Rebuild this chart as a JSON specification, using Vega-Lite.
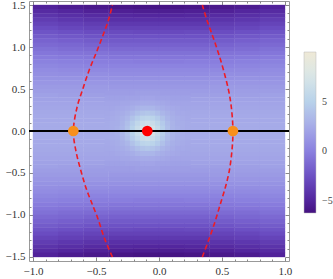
{
"$schema":"https://vega.github.io/schema/vega-lite/v6.json",
"width":260,"height":260,
"autosize":{"type":"none"},
"padding":{"left":29,"top":1,"right":44,"bottom":18},
"background":"white",
"config":{"view":{"stroke":"#999","strokeWidth":1},"axis":{"domain":false,"grid":false,"title":null,"tickColor":"#888","labelFont":"Liberation Serif","labelFontSize":11,"labelColor":"#333","labelFlush":false,"labelOverlap":false}},
"datasets":{
"grid":[
{"x":-0.9,"y":1.475,"v":-5.1},{"x":-0.7,"y":1.475,"v":-5.5},{"x":-0.5,"y":1.475,"v":-5.7},{"x":-0.3,"y":1.475,"v":-5.9},{"x":-0.1,"y":1.475,"v":-6.0},{"x":0.1,"y":1.475,"v":-6.0},{"x":0.3,"y":1.475,"v":-5.9},{"x":0.5,"y":1.475,"v":-5.7},{"x":0.7,"y":1.475,"v":-5.5},{"x":0.9,"y":1.475,"v":-5.1},
{"x":-0.9,"y":1.425,"v":-4.6},{"x":-0.7,"y":1.425,"v":-4.9},{"x":-0.5,"y":1.425,"v":-5.2},{"x":-0.3,"y":1.425,"v":-5.3},{"x":-0.1,"y":1.425,"v":-5.4},{"x":0.1,"y":1.425,"v":-5.4},{"x":0.3,"y":1.425,"v":-5.3},{"x":0.5,"y":1.425,"v":-5.2},{"x":0.7,"y":1.425,"v":-4.9},{"x":0.9,"y":1.425,"v":-4.6},
{"x":-0.9,"y":1.375,"v":-4.1},{"x":-0.7,"y":1.375,"v":-4.4},{"x":-0.5,"y":1.375,"v":-4.6},{"x":-0.3,"y":1.375,"v":-4.8},{"x":-0.1,"y":1.375,"v":-4.9},{"x":0.1,"y":1.375,"v":-4.9},{"x":0.3,"y":1.375,"v":-4.8},{"x":0.5,"y":1.375,"v":-4.6},{"x":0.7,"y":1.375,"v":-4.4},{"x":0.9,"y":1.375,"v":-4.1},
{"x":-0.9,"y":1.325,"v":-3.6},{"x":-0.7,"y":1.325,"v":-3.9},{"x":-0.5,"y":1.325,"v":-4.1},{"x":-0.3,"y":1.325,"v":-4.3},{"x":-0.1,"y":1.325,"v":-4.3},{"x":0.1,"y":1.325,"v":-4.3},{"x":0.3,"y":1.325,"v":-4.3},{"x":0.5,"y":1.325,"v":-4.1},{"x":0.7,"y":1.325,"v":-3.9},{"x":0.9,"y":1.325,"v":-3.6},
{"x":-0.9,"y":1.275,"v":-3.2},{"x":-0.7,"y":1.275,"v":-3.4},{"x":-0.5,"y":1.275,"v":-3.6},{"x":-0.3,"y":1.275,"v":-3.8},{"x":-0.1,"y":1.275,"v":-3.8},{"x":0.1,"y":1.275,"v":-3.8},{"x":0.3,"y":1.275,"v":-3.8},{"x":0.5,"y":1.275,"v":-3.6},{"x":0.7,"y":1.275,"v":-3.4},{"x":0.9,"y":1.275,"v":-3.2},
{"x":-0.9,"y":1.225,"v":-2.7},{"x":-0.7,"y":1.225,"v":-3.0},{"x":-0.5,"y":1.225,"v":-3.2},{"x":-0.3,"y":1.225,"v":-3.3},{"x":-0.1,"y":1.225,"v":-3.3},{"x":0.1,"y":1.225,"v":-3.3},{"x":0.3,"y":1.225,"v":-3.3},{"x":0.5,"y":1.225,"v":-3.2},{"x":0.7,"y":1.225,"v":-3.0},{"x":0.9,"y":1.225,"v":-2.7},
{"x":-0.9,"y":1.175,"v":-2.3},{"x":-0.7,"y":1.175,"v":-2.5},{"x":-0.5,"y":1.175,"v":-2.7},{"x":-0.3,"y":1.175,"v":-2.8},{"x":-0.1,"y":1.175,"v":-2.9},{"x":0.1,"y":1.175,"v":-2.9},{"x":0.3,"y":1.175,"v":-2.8},{"x":0.5,"y":1.175,"v":-2.7},{"x":0.7,"y":1.175,"v":-2.5},{"x":0.9,"y":1.175,"v":-2.3},
{"x":-0.9,"y":1.125,"v":-1.9},{"x":-0.7,"y":1.125,"v":-2.1},{"x":-0.5,"y":1.125,"v":-2.3},{"x":-0.3,"y":1.125,"v":-2.4},{"x":-0.1,"y":1.125,"v":-2.4},{"x":0.1,"y":1.125,"v":-2.4},{"x":0.3,"y":1.125,"v":-2.4},{"x":0.5,"y":1.125,"v":-2.3},{"x":0.7,"y":1.125,"v":-2.1},{"x":0.9,"y":1.125,"v":-1.9},
{"x":-0.9,"y":1.075,"v":-1.5},{"x":-0.7,"y":1.075,"v":-1.7},{"x":-0.5,"y":1.075,"v":-1.9},{"x":-0.3,"y":1.075,"v":-2.0},{"x":-0.1,"y":1.075,"v":-2.0},{"x":0.1,"y":1.075,"v":-2.0},{"x":0.3,"y":1.075,"v":-2.0},{"x":0.5,"y":1.075,"v":-1.9},{"x":0.7,"y":1.075,"v":-1.7},{"x":0.9,"y":1.075,"v":-1.5},
{"x":-0.9,"y":1.025,"v":-1.2},{"x":-0.7,"y":1.025,"v":-1.3},{"x":-0.5,"y":1.025,"v":-1.5},{"x":-0.3,"y":1.025,"v":-1.6},{"x":-0.1,"y":1.025,"v":-1.6},{"x":0.1,"y":1.025,"v":-1.6},{"x":0.3,"y":1.025,"v":-1.6},{"x":0.5,"y":1.025,"v":-1.5},{"x":0.7,"y":1.025,"v":-1.3},{"x":0.9,"y":1.025,"v":-1.2},
{"x":-0.9,"y":0.975,"v":-0.8},{"x":-0.7,"y":0.975,"v":-1.0},{"x":-0.5,"y":0.975,"v":-1.1},{"x":-0.3,"y":0.975,"v":-1.2},{"x":-0.1,"y":0.975,"v":-1.2},{"x":0.1,"y":0.975,"v":-1.2},{"x":0.3,"y":0.975,"v":-1.2},{"x":0.5,"y":0.975,"v":-1.1},{"x":0.7,"y":0.975,"v":-1.0},{"x":0.9,"y":0.975,"v":-0.8},
{"x":-0.9,"y":0.925,"v":-0.5},{"x":-0.7,"y":0.925,"v":-0.6},{"x":-0.5,"y":0.925,"v":-0.7},{"x":-0.3,"y":0.925,"v":-0.8},{"x":-0.1,"y":0.925,"v":-0.8},{"x":0.1,"y":0.925,"v":-0.8},{"x":0.3,"y":0.925,"v":-0.8},{"x":0.5,"y":0.925,"v":-0.7},{"x":0.7,"y":0.925,"v":-0.6},{"x":0.9,"y":0.925,"v":-0.5},
{"x":-0.9,"y":0.875,"v":-0.2},{"x":-0.7,"y":0.875,"v":-0.3},{"x":-0.5,"y":0.875,"v":-0.4},{"x":-0.3,"y":0.875,"v":-0.5},{"x":-0.1,"y":0.875,"v":-0.5},{"x":0.1,"y":0.875,"v":-0.5},{"x":0.3,"y":0.875,"v":-0.5},{"x":0.5,"y":0.875,"v":-0.4},{"x":0.7,"y":0.875,"v":-0.3},{"x":0.9,"y":0.875,"v":-0.2},
{"x":-0.9,"y":0.825,"v":0.1},{"x":-0.7,"y":0.825,"v":0.0},{"x":-0.5,"y":0.825,"v":-0.1},{"x":-0.3,"y":0.825,"v":-0.1},{"x":-0.1,"y":0.825,"v":-0.2},{"x":0.1,"y":0.825,"v":-0.2},{"x":0.3,"y":0.825,"v":-0.1},{"x":0.5,"y":0.825,"v":-0.1},{"x":0.7,"y":0.825,"v":0.0},{"x":0.9,"y":0.825,"v":0.1},
{"x":-0.9,"y":0.775,"v":0.4},{"x":-0.7,"y":0.775,"v":0.3},{"x":-0.5,"y":0.775,"v":0.2},{"x":-0.3,"y":0.775,"v":0.2},{"x":-0.1,"y":0.775,"v":0.2},{"x":0.1,"y":0.775,"v":0.2},{"x":0.3,"y":0.775,"v":0.2},{"x":0.5,"y":0.775,"v":0.2},{"x":0.7,"y":0.775,"v":0.3},{"x":0.9,"y":0.775,"v":0.4},
{"x":-0.9,"y":0.725,"v":0.7},{"x":-0.7,"y":0.725,"v":0.6},{"x":-0.5,"y":0.725,"v":0.5},{"x":-0.3,"y":0.725,"v":0.5},{"x":-0.1,"y":0.725,"v":0.5},{"x":0.1,"y":0.725,"v":0.5},{"x":0.3,"y":0.725,"v":0.5},{"x":0.5,"y":0.725,"v":0.5},{"x":0.7,"y":0.725,"v":0.6},{"x":0.9,"y":0.725,"v":0.7},
{"x":-0.9,"y":0.675,"v":0.9},{"x":-0.7,"y":0.675,"v":0.8},{"x":-0.5,"y":0.675,"v":0.8},{"x":-0.3,"y":0.675,"v":0.7},{"x":-0.1,"y":0.675,"v":0.7},{"x":0.1,"y":0.675,"v":0.7},{"x":0.3,"y":0.675,"v":0.7},{"x":0.5,"y":0.675,"v":0.8},{"x":0.7,"y":0.675,"v":0.8},{"x":0.9,"y":0.675,"v":0.9},
{"x":-0.9,"y":0.625,"v":1.1},{"x":-0.7,"y":0.625,"v":1.1},{"x":-0.5,"y":0.625,"v":1.0},{"x":-0.3,"y":0.625,"v":1.0},{"x":-0.1,"y":0.625,"v":1.0},{"x":0.1,"y":0.625,"v":1.0},{"x":0.3,"y":0.625,"v":1.0},{"x":0.5,"y":0.625,"v":1.0},{"x":0.7,"y":0.625,"v":1.1},{"x":0.9,"y":0.625,"v":1.1},
{"x":-0.9,"y":0.575,"v":1.3},{"x":-0.7,"y":0.575,"v":1.3},{"x":-0.5,"y":0.575,"v":1.3},{"x":-0.3,"y":0.575,"v":1.2},{"x":-0.1,"y":0.575,"v":1.2},{"x":0.1,"y":0.575,"v":1.2},{"x":0.3,"y":0.575,"v":1.2},{"x":0.5,"y":0.575,"v":1.3},{"x":0.7,"y":0.575,"v":1.3},{"x":0.9,"y":0.575,"v":1.3},
{"x":-0.9,"y":0.525,"v":1.5},{"x":-0.7,"y":0.525,"v":1.5},{"x":-0.5,"y":0.525,"v":1.5},{"x":-0.3,"y":0.525,"v":1.4},{"x":-0.1,"y":0.525,"v":1.4},{"x":0.1,"y":0.525,"v":1.4},{"x":0.3,"y":0.525,"v":1.4},{"x":0.5,"y":0.525,"v":1.5},{"x":0.7,"y":0.525,"v":1.5},{"x":0.9,"y":0.525,"v":1.5},
{"x":-0.9,"y":0.475,"v":1.7},{"x":-0.7,"y":0.475,"v":1.7},{"x":-0.5,"y":0.475,"v":1.6},{"x":-0.3,"y":0.475,"v":1.6},{"x":-0.1,"y":0.475,"v":1.6},{"x":0.1,"y":0.475,"v":1.6},{"x":0.3,"y":0.475,"v":1.6},{"x":0.5,"y":0.475,"v":1.6},{"x":0.7,"y":0.475,"v":1.7},{"x":0.9,"y":0.475,"v":1.7},
{"x":-0.9,"y":0.425,"v":1.9},{"x":-0.7,"y":0.425,"v":1.8},{"x":-0.5,"y":0.425,"v":1.8},{"x":-0.3,"y":0.425,"v":1.8},{"x":-0.1,"y":0.425,"v":1.8},{"x":0.1,"y":0.425,"v":1.8},{"x":0.3,"y":0.425,"v":1.8},{"x":0.5,"y":0.425,"v":1.8},{"x":0.7,"y":0.425,"v":1.8},{"x":0.9,"y":0.425,"v":1.9},
{"x":-0.9,"y":0.375,"v":2.0},{"x":-0.7,"y":0.375,"v":2.0},{"x":-0.5,"y":0.375,"v":2.0},{"x":-0.3,"y":0.375,"v":2.0},{"x":-0.1,"y":0.375,"v":2.0},{"x":0.1,"y":0.375,"v":2.0},{"x":0.3,"y":0.375,"v":2.0},{"x":0.5,"y":0.375,"v":2.0},{"x":0.7,"y":0.375,"v":2.0},{"x":0.9,"y":0.375,"v":2.0},
{"x":-0.9,"y":0.325,"v":2.1},{"x":-0.7,"y":0.325,"v":2.1},{"x":-0.5,"y":0.325,"v":2.1},{"x":-0.3,"y":0.325,"v":2.1},{"x":-0.1,"y":0.325,"v":2.1},{"x":0.1,"y":0.325,"v":2.1},{"x":0.3,"y":0.325,"v":2.1},{"x":0.5,"y":0.325,"v":2.1},{"x":0.7,"y":0.325,"v":2.1},{"x":0.9,"y":0.325,"v":2.1},
{"x":-0.9,"y":0.275,"v":2.2},{"x":-0.7,"y":0.275,"v":2.2},{"x":-0.5,"y":0.275,"v":2.2},{"x":-0.3,"y":0.275,"v":2.2},{"x":-0.1,"y":0.275,"v":2.2},{"x":0.1,"y":0.275,"v":2.2},{"x":0.3,"y":0.275,"v":2.2},{"x":0.5,"y":0.275,"v":2.2},{"x":0.7,"y":0.275,"v":2.2},{"x":0.9,"y":0.275,"v":2.2},
{"x":-0.9,"y":0.225,"v":2.3},{"x":-0.7,"y":0.225,"v":2.3},{"x":-0.5,"y":0.225,"v":2.3},{"x":-0.3,"y":0.225,"v":2.3},{"x":-0.1,"y":0.225,"v":2.3},{"x":0.1,"y":0.225,"v":2.3},{"x":0.3,"y":0.225,"v":2.3},{"x":0.5,"y":0.225,"v":2.3},{"x":0.7,"y":0.225,"v":2.3},{"x":0.9,"y":0.225,"v":2.3},
{"x":-0.9,"y":0.175,"v":2.4},{"x":-0.7,"y":0.175,"v":2.4},{"x":-0.5,"y":0.175,"v":2.4},{"x":-0.3,"y":0.175,"v":2.4},{"x":-0.1,"y":0.175,"v":2.4},{"x":0.1,"y":0.175,"v":2.4},{"x":0.3,"y":0.175,"v":2.4},{"x":0.5,"y":0.175,"v":2.4},{"x":0.7,"y":0.175,"v":2.4},{"x":0.9,"y":0.175,"v":2.4},
{"x":-0.9,"y":0.125,"v":2.4},{"x":-0.7,"y":0.125,"v":2.4},{"x":-0.5,"y":0.125,"v":2.4},{"x":-0.3,"y":0.125,"v":2.4},{"x":-0.1,"y":0.125,"v":2.4},{"x":0.1,"y":0.125,"v":2.4},{"x":0.3,"y":0.125,"v":2.4},{"x":0.5,"y":0.125,"v":2.4},{"x":0.7,"y":0.125,"v":2.4},{"x":0.9,"y":0.125,"v":2.4},
{"x":-0.9,"y":0.075,"v":2.5},{"x":-0.7,"y":0.075,"v":2.5},{"x":-0.5,"y":0.075,"v":2.5},{"x":-0.3,"y":0.075,"v":2.5},{"x":-0.1,"y":0.075,"v":2.5},{"x":0.1,"y":0.075,"v":2.5},{"x":0.3,"y":0.075,"v":2.5},{"x":0.5,"y":0.075,"v":2.5},{"x":0.7,"y":0.075,"v":2.5},{"x":0.9,"y":0.075,"v":2.5},
{"x":-0.9,"y":0.025,"v":2.5},{"x":-0.7,"y":0.025,"v":2.5},{"x":-0.5,"y":0.025,"v":2.5},{"x":-0.3,"y":0.025,"v":2.5},{"x":-0.1,"y":0.025,"v":2.5},{"x":0.1,"y":0.025,"v":2.5},{"x":0.3,"y":0.025,"v":2.5},{"x":0.5,"y":0.025,"v":2.5},{"x":0.7,"y":0.025,"v":2.5},{"x":0.9,"y":0.025,"v":2.5},
{"x":-0.9,"y":-0.025,"v":2.5},{"x":-0.7,"y":-0.025,"v":2.5},{"x":-0.5,"y":-0.025,"v":2.5},{"x":-0.3,"y":-0.025,"v":2.5},{"x":-0.1,"y":-0.025,"v":2.5},{"x":0.1,"y":-0.025,"v":2.5},{"x":0.3,"y":-0.025,"v":2.5},{"x":0.5,"y":-0.025,"v":2.5},{"x":0.7,"y":-0.025,"v":2.5},{"x":0.9,"y":-0.025,"v":2.5},
{"x":-0.9,"y":-0.075,"v":2.5},{"x":-0.7,"y":-0.075,"v":2.5},{"x":-0.5,"y":-0.075,"v":2.5},{"x":-0.3,"y":-0.075,"v":2.5},{"x":-0.1,"y":-0.075,"v":2.5},{"x":0.1,"y":-0.075,"v":2.5},{"x":0.3,"y":-0.075,"v":2.5},{"x":0.5,"y":-0.075,"v":2.5},{"x":0.7,"y":-0.075,"v":2.5},{"x":0.9,"y":-0.075,"v":2.5},
{"x":-0.9,"y":-0.125,"v":2.4},{"x":-0.7,"y":-0.125,"v":2.4},{"x":-0.5,"y":-0.125,"v":2.4},{"x":-0.3,"y":-0.125,"v":2.4},{"x":-0.1,"y":-0.125,"v":2.4},{"x":0.1,"y":-0.125,"v":2.4},{"x":0.3,"y":-0.125,"v":2.4},{"x":0.5,"y":-0.125,"v":2.4},{"x":0.7,"y":-0.125,"v":2.4},{"x":0.9,"y":-0.125,"v":2.4},
{"x":-0.9,"y":-0.175,"v":2.4},{"x":-0.7,"y":-0.175,"v":2.4},{"x":-0.5,"y":-0.175,"v":2.4},{"x":-0.3,"y":-0.175,"v":2.4},{"x":-0.1,"y":-0.175,"v":2.4},{"x":0.1,"y":-0.175,"v":2.4},{"x":0.3,"y":-0.175,"v":2.4},{"x":0.5,"y":-0.175,"v":2.4},{"x":0.7,"y":-0.175,"v":2.4},{"x":0.9,"y":-0.175,"v":2.4},
{"x":-0.9,"y":-0.225,"v":2.3},{"x":-0.7,"y":-0.225,"v":2.3},{"x":-0.5,"y":-0.225,"v":2.3},{"x":-0.3,"y":-0.225,"v":2.3},{"x":-0.1,"y":-0.225,"v":2.3},{"x":0.1,"y":-0.225,"v":2.3},{"x":0.3,"y":-0.225,"v":2.3},{"x":0.5,"y":-0.225,"v":2.3},{"x":0.7,"y":-0.225,"v":2.3},{"x":0.9,"y":-0.225,"v":2.3},
{"x":-0.9,"y":-0.275,"v":2.2},{"x":-0.7,"y":-0.275,"v":2.2},{"x":-0.5,"y":-0.275,"v":2.2},{"x":-0.3,"y":-0.275,"v":2.2},{"x":-0.1,"y":-0.275,"v":2.2},{"x":0.1,"y":-0.275,"v":2.2},{"x":0.3,"y":-0.275,"v":2.2},{"x":0.5,"y":-0.275,"v":2.2},{"x":0.7,"y":-0.275,"v":2.2},{"x":0.9,"y":-0.275,"v":2.2},
{"x":-0.9,"y":-0.325,"v":2.1},{"x":-0.7,"y":-0.325,"v":2.1},{"x":-0.5,"y":-0.325,"v":2.1},{"x":-0.3,"y":-0.325,"v":2.1},{"x":-0.1,"y":-0.325,"v":2.1},{"x":0.1,"y":-0.325,"v":2.1},{"x":0.3,"y":-0.325,"v":2.1},{"x":0.5,"y":-0.325,"v":2.1},{"x":0.7,"y":-0.325,"v":2.1},{"x":0.9,"y":-0.325,"v":2.1},
{"x":-0.9,"y":-0.375,"v":2.0},{"x":-0.7,"y":-0.375,"v":2.0},{"x":-0.5,"y":-0.375,"v":2.0},{"x":-0.3,"y":-0.375,"v":2.0},{"x":-0.1,"y":-0.375,"v":2.0},{"x":0.1,"y":-0.375,"v":2.0},{"x":0.3,"y":-0.375,"v":2.0},{"x":0.5,"y":-0.375,"v":2.0},{"x":0.7,"y":-0.375,"v":2.0},{"x":0.9,"y":-0.375,"v":2.0},
{"x":-0.9,"y":-0.425,"v":1.9},{"x":-0.7,"y":-0.425,"v":1.8},{"x":-0.5,"y":-0.425,"v":1.8},{"x":-0.3,"y":-0.425,"v":1.8},{"x":-0.1,"y":-0.425,"v":1.8},{"x":0.1,"y":-0.425,"v":1.8},{"x":0.3,"y":-0.425,"v":1.8},{"x":0.5,"y":-0.425,"v":1.8},{"x":0.7,"y":-0.425,"v":1.8},{"x":0.9,"y":-0.425,"v":1.9},
{"x":-0.9,"y":-0.475,"v":1.7},{"x":-0.7,"y":-0.475,"v":1.7},{"x":-0.5,"y":-0.475,"v":1.6},{"x":-0.3,"y":-0.475,"v":1.6},{"x":-0.1,"y":-0.475,"v":1.6},{"x":0.1,"y":-0.475,"v":1.6},{"x":0.3,"y":-0.475,"v":1.6},{"x":0.5,"y":-0.475,"v":1.6},{"x":0.7,"y":-0.475,"v":1.7},{"x":0.9,"y":-0.475,"v":1.7},
{"x":-0.9,"y":-0.525,"v":1.5},{"x":-0.7,"y":-0.525,"v":1.5},{"x":-0.5,"y":-0.525,"v":1.5},{"x":-0.3,"y":-0.525,"v":1.4},{"x":-0.1,"y":-0.525,"v":1.4},{"x":0.1,"y":-0.525,"v":1.4},{"x":0.3,"y":-0.525,"v":1.4},{"x":0.5,"y":-0.525,"v":1.5},{"x":0.7,"y":-0.525,"v":1.5},{"x":0.9,"y":-0.525,"v":1.5},
{"x":-0.9,"y":-0.575,"v":1.3},{"x":-0.7,"y":-0.575,"v":1.3},{"x":-0.5,"y":-0.575,"v":1.3},{"x":-0.3,"y":-0.575,"v":1.2},{"x":-0.1,"y":-0.575,"v":1.2},{"x":0.1,"y":-0.575,"v":1.2},{"x":0.3,"y":-0.575,"v":1.2},{"x":0.5,"y":-0.575,"v":1.3},{"x":0.7,"y":-0.575,"v":1.3},{"x":0.9,"y":-0.575,"v":1.3},
{"x":-0.9,"y":-0.625,"v":1.1},{"x":-0.7,"y":-0.625,"v":1.1},{"x":-0.5,"y":-0.625,"v":1.0},{"x":-0.3,"y":-0.625,"v":1.0},{"x":-0.1,"y":-0.625,"v":1.0},{"x":0.1,"y":-0.625,"v":1.0},{"x":0.3,"y":-0.625,"v":1.0},{"x":0.5,"y":-0.625,"v":1.0},{"x":0.7,"y":-0.625,"v":1.1},{"x":0.9,"y":-0.625,"v":1.1},
{"x":-0.9,"y":-0.675,"v":0.9},{"x":-0.7,"y":-0.675,"v":0.8},{"x":-0.5,"y":-0.675,"v":0.8},{"x":-0.3,"y":-0.675,"v":0.7},{"x":-0.1,"y":-0.675,"v":0.7},{"x":0.1,"y":-0.675,"v":0.7},{"x":0.3,"y":-0.675,"v":0.7},{"x":0.5,"y":-0.675,"v":0.8},{"x":0.7,"y":-0.675,"v":0.8},{"x":0.9,"y":-0.675,"v":0.9},
{"x":-0.9,"y":-0.725,"v":0.7},{"x":-0.7,"y":-0.725,"v":0.6},{"x":-0.5,"y":-0.725,"v":0.5},{"x":-0.3,"y":-0.725,"v":0.5},{"x":-0.1,"y":-0.725,"v":0.5},{"x":0.1,"y":-0.725,"v":0.5},{"x":0.3,"y":-0.725,"v":0.5},{"x":0.5,"y":-0.725,"v":0.5},{"x":0.7,"y":-0.725,"v":0.6},{"x":0.9,"y":-0.725,"v":0.7},
{"x":-0.9,"y":-0.775,"v":0.4},{"x":-0.7,"y":-0.775,"v":0.3},{"x":-0.5,"y":-0.775,"v":0.2},{"x":-0.3,"y":-0.775,"v":0.2},{"x":-0.1,"y":-0.775,"v":0.2},{"x":0.1,"y":-0.775,"v":0.2},{"x":0.3,"y":-0.775,"v":0.2},{"x":0.5,"y":-0.775,"v":0.2},{"x":0.7,"y":-0.775,"v":0.3},{"x":0.9,"y":-0.775,"v":0.4},
{"x":-0.9,"y":-0.825,"v":0.1},{"x":-0.7,"y":-0.825,"v":0.0},{"x":-0.5,"y":-0.825,"v":-0.1},{"x":-0.3,"y":-0.825,"v":-0.1},{"x":-0.1,"y":-0.825,"v":-0.2},{"x":0.1,"y":-0.825,"v":-0.2},{"x":0.3,"y":-0.825,"v":-0.1},{"x":0.5,"y":-0.825,"v":-0.1},{"x":0.7,"y":-0.825,"v":0.0},{"x":0.9,"y":-0.825,"v":0.1},
{"x":-0.9,"y":-0.875,"v":-0.2},{"x":-0.7,"y":-0.875,"v":-0.3},{"x":-0.5,"y":-0.875,"v":-0.4},{"x":-0.3,"y":-0.875,"v":-0.5},{"x":-0.1,"y":-0.875,"v":-0.5},{"x":0.1,"y":-0.875,"v":-0.5},{"x":0.3,"y":-0.875,"v":-0.5},{"x":0.5,"y":-0.875,"v":-0.4},{"x":0.7,"y":-0.875,"v":-0.3},{"x":0.9,"y":-0.875,"v":-0.2},
{"x":-0.9,"y":-0.925,"v":-0.5},{"x":-0.7,"y":-0.925,"v":-0.6},{"x":-0.5,"y":-0.925,"v":-0.7},{"x":-0.3,"y":-0.925,"v":-0.8},{"x":-0.1,"y":-0.925,"v":-0.8},{"x":0.1,"y":-0.925,"v":-0.8},{"x":0.3,"y":-0.925,"v":-0.8},{"x":0.5,"y":-0.925,"v":-0.7},{"x":0.7,"y":-0.925,"v":-0.6},{"x":0.9,"y":-0.925,"v":-0.5},
{"x":-0.9,"y":-0.975,"v":-0.8},{"x":-0.7,"y":-0.975,"v":-1.0},{"x":-0.5,"y":-0.975,"v":-1.1},{"x":-0.3,"y":-0.975,"v":-1.2},{"x":-0.1,"y":-0.975,"v":-1.2},{"x":0.1,"y":-0.975,"v":-1.2},{"x":0.3,"y":-0.975,"v":-1.2},{"x":0.5,"y":-0.975,"v":-1.1},{"x":0.7,"y":-0.975,"v":-1.0},{"x":0.9,"y":-0.975,"v":-0.8},
{"x":-0.9,"y":-1.025,"v":-1.2},{"x":-0.7,"y":-1.025,"v":-1.3},{"x":-0.5,"y":-1.025,"v":-1.5},{"x":-0.3,"y":-1.025,"v":-1.6},{"x":-0.1,"y":-1.025,"v":-1.6},{"x":0.1,"y":-1.025,"v":-1.6},{"x":0.3,"y":-1.025,"v":-1.6},{"x":0.5,"y":-1.025,"v":-1.5},{"x":0.7,"y":-1.025,"v":-1.3},{"x":0.9,"y":-1.025,"v":-1.2},
{"x":-0.9,"y":-1.075,"v":-1.5},{"x":-0.7,"y":-1.075,"v":-1.7},{"x":-0.5,"y":-1.075,"v":-1.9},{"x":-0.3,"y":-1.075,"v":-2.0},{"x":-0.1,"y":-1.075,"v":-2.0},{"x":0.1,"y":-1.075,"v":-2.0},{"x":0.3,"y":-1.075,"v":-2.0},{"x":0.5,"y":-1.075,"v":-1.9},{"x":0.7,"y":-1.075,"v":-1.7},{"x":0.9,"y":-1.075,"v":-1.5},
{"x":-0.9,"y":-1.125,"v":-1.9},{"x":-0.7,"y":-1.125,"v":-2.1},{"x":-0.5,"y":-1.125,"v":-2.3},{"x":-0.3,"y":-1.125,"v":-2.4},{"x":-0.1,"y":-1.125,"v":-2.4},{"x":0.1,"y":-1.125,"v":-2.4},{"x":0.3,"y":-1.125,"v":-2.4},{"x":0.5,"y":-1.125,"v":-2.3},{"x":0.7,"y":-1.125,"v":-2.1},{"x":0.9,"y":-1.125,"v":-1.9},
{"x":-0.9,"y":-1.175,"v":-2.3},{"x":-0.7,"y":-1.175,"v":-2.5},{"x":-0.5,"y":-1.175,"v":-2.7},{"x":-0.3,"y":-1.175,"v":-2.8},{"x":-0.1,"y":-1.175,"v":-2.9},{"x":0.1,"y":-1.175,"v":-2.9},{"x":0.3,"y":-1.175,"v":-2.8},{"x":0.5,"y":-1.175,"v":-2.7},{"x":0.7,"y":-1.175,"v":-2.5},{"x":0.9,"y":-1.175,"v":-2.3},
{"x":-0.9,"y":-1.225,"v":-2.7},{"x":-0.7,"y":-1.225,"v":-3.0},{"x":-0.5,"y":-1.225,"v":-3.2},{"x":-0.3,"y":-1.225,"v":-3.3},{"x":-0.1,"y":-1.225,"v":-3.3},{"x":0.1,"y":-1.225,"v":-3.3},{"x":0.3,"y":-1.225,"v":-3.3},{"x":0.5,"y":-1.225,"v":-3.2},{"x":0.7,"y":-1.225,"v":-3.0},{"x":0.9,"y":-1.225,"v":-2.7},
{"x":-0.9,"y":-1.275,"v":-3.2},{"x":-0.7,"y":-1.275,"v":-3.4},{"x":-0.5,"y":-1.275,"v":-3.6},{"x":-0.3,"y":-1.275,"v":-3.8},{"x":-0.1,"y":-1.275,"v":-3.8},{"x":0.1,"y":-1.275,"v":-3.8},{"x":0.3,"y":-1.275,"v":-3.8},{"x":0.5,"y":-1.275,"v":-3.6},{"x":0.7,"y":-1.275,"v":-3.4},{"x":0.9,"y":-1.275,"v":-3.2},
{"x":-0.9,"y":-1.325,"v":-3.6},{"x":-0.7,"y":-1.325,"v":-3.9},{"x":-0.5,"y":-1.325,"v":-4.1},{"x":-0.3,"y":-1.325,"v":-4.3},{"x":-0.1,"y":-1.325,"v":-4.3},{"x":0.1,"y":-1.325,"v":-4.3},{"x":0.3,"y":-1.325,"v":-4.3},{"x":0.5,"y":-1.325,"v":-4.1},{"x":0.7,"y":-1.325,"v":-3.9},{"x":0.9,"y":-1.325,"v":-3.6},
{"x":-0.9,"y":-1.375,"v":-4.1},{"x":-0.7,"y":-1.375,"v":-4.4},{"x":-0.5,"y":-1.375,"v":-4.6},{"x":-0.3,"y":-1.375,"v":-4.8},{"x":-0.1,"y":-1.375,"v":-4.9},{"x":0.1,"y":-1.375,"v":-4.9},{"x":0.3,"y":-1.375,"v":-4.8},{"x":0.5,"y":-1.375,"v":-4.6},{"x":0.7,"y":-1.375,"v":-4.4},{"x":0.9,"y":-1.375,"v":-4.1},
{"x":-0.9,"y":-1.425,"v":-4.6},{"x":-0.7,"y":-1.425,"v":-4.9},{"x":-0.5,"y":-1.425,"v":-5.2},{"x":-0.3,"y":-1.425,"v":-5.3},{"x":-0.1,"y":-1.425,"v":-5.4},{"x":0.1,"y":-1.425,"v":-5.4},{"x":0.3,"y":-1.425,"v":-5.3},{"x":0.5,"y":-1.425,"v":-5.2},{"x":0.7,"y":-1.425,"v":-4.9},{"x":0.9,"y":-1.425,"v":-4.6},
{"x":-0.9,"y":-1.475,"v":-5.1},{"x":-0.7,"y":-1.475,"v":-5.5},{"x":-0.5,"y":-1.475,"v":-5.7},{"x":-0.3,"y":-1.475,"v":-5.9},{"x":-0.1,"y":-1.475,"v":-6.0},{"x":0.1,"y":-1.475,"v":-6.0},{"x":0.3,"y":-1.475,"v":-5.9},{"x":0.5,"y":-1.475,"v":-5.7},{"x":0.7,"y":-1.475,"v":-5.5},{"x":0.9,"y":-1.475,"v":-5.1}
],
"fine":[
{"x":-0.41,"y":0.45,"v":1.7},{"x":-0.37,"y":0.45,"v":1.7},{"x":-0.33,"y":0.45,"v":1.7},{"x":-0.29,"y":0.45,"v":1.7},{"x":-0.25,"y":0.45,"v":1.7},{"x":-0.21,"y":0.45,"v":1.7},{"x":-0.17,"y":0.45,"v":1.8},{"x":-0.13,"y":0.45,"v":1.8},{"x":-0.09,"y":0.45,"v":1.8},{"x":-0.05,"y":0.45,"v":1.8},{"x":-0.01,"y":0.45,"v":1.8},{"x":0.03,"y":0.45,"v":1.7},{"x":0.07,"y":0.45,"v":1.7},{"x":0.11,"y":0.45,"v":1.7},{"x":0.15,"y":0.45,"v":1.7},{"x":0.19,"y":0.45,"v":1.7},{"x":0.23,"y":0.45,"v":1.7},
{"x":-0.41,"y":0.39,"v":1.9},{"x":-0.37,"y":0.39,"v":1.9},{"x":-0.33,"y":0.39,"v":1.9},{"x":-0.29,"y":0.39,"v":1.9},{"x":-0.25,"y":0.39,"v":2.0},{"x":-0.21,"y":0.39,"v":2.0},{"x":-0.17,"y":0.39,"v":2.0},{"x":-0.13,"y":0.39,"v":2.1},{"x":-0.09,"y":0.39,"v":2.1},{"x":-0.05,"y":0.39,"v":2.1},{"x":-0.01,"y":0.39,"v":2.0},{"x":0.03,"y":0.39,"v":2.0},{"x":0.07,"y":0.39,"v":2.0},{"x":0.11,"y":0.39,"v":1.9},{"x":0.15,"y":0.39,"v":1.9},{"x":0.19,"y":0.39,"v":1.9},{"x":0.23,"y":0.39,"v":1.9},
{"x":-0.41,"y":0.33,"v":2.1},{"x":-0.37,"y":0.33,"v":2.1},{"x":-0.33,"y":0.33,"v":2.1},{"x":-0.29,"y":0.33,"v":2.2},{"x":-0.25,"y":0.33,"v":2.2},{"x":-0.21,"y":0.33,"v":2.3},{"x":-0.17,"y":0.33,"v":2.4},{"x":-0.13,"y":0.33,"v":2.5},{"x":-0.09,"y":0.33,"v":2.5},{"x":-0.05,"y":0.33,"v":2.5},{"x":-0.01,"y":0.33,"v":2.4},{"x":0.03,"y":0.33,"v":2.3},{"x":0.07,"y":0.33,"v":2.2},{"x":0.11,"y":0.33,"v":2.1},{"x":0.15,"y":0.33,"v":2.1},{"x":0.19,"y":0.33,"v":2.1},{"x":0.23,"y":0.33,"v":2.1},
{"x":-0.41,"y":0.27,"v":2.2},{"x":-0.37,"y":0.27,"v":2.2},{"x":-0.33,"y":0.27,"v":2.3},{"x":-0.29,"y":0.27,"v":2.4},{"x":-0.25,"y":0.27,"v":2.5},{"x":-0.21,"y":0.27,"v":2.7},{"x":-0.17,"y":0.27,"v":3.0},{"x":-0.13,"y":0.27,"v":3.2},{"x":-0.09,"y":0.27,"v":3.2},{"x":-0.05,"y":0.27,"v":3.2},{"x":-0.01,"y":0.27,"v":2.9},{"x":0.03,"y":0.27,"v":2.7},{"x":0.07,"y":0.27,"v":2.5},{"x":0.11,"y":0.27,"v":2.4},{"x":0.15,"y":0.27,"v":2.3},{"x":0.19,"y":0.27,"v":2.2},{"x":0.23,"y":0.27,"v":2.2},
{"x":-0.41,"y":0.21,"v":2.3},{"x":-0.37,"y":0.21,"v":2.4},{"x":-0.33,"y":0.21,"v":2.5},{"x":-0.29,"y":0.21,"v":2.6},{"x":-0.25,"y":0.21,"v":2.9},{"x":-0.21,"y":0.21,"v":3.3},{"x":-0.17,"y":0.21,"v":3.8},{"x":-0.13,"y":0.21,"v":4.1},{"x":-0.09,"y":0.21,"v":4.3},{"x":-0.05,"y":0.21,"v":4.1},{"x":-0.01,"y":0.21,"v":3.7},{"x":0.03,"y":0.21,"v":3.2},{"x":0.07,"y":0.21,"v":2.9},{"x":0.11,"y":0.21,"v":2.6},{"x":0.15,"y":0.21,"v":2.4},{"x":0.19,"y":0.21,"v":2.4},{"x":0.23,"y":0.21,"v":2.3},
{"x":-0.41,"y":0.15,"v":2.4},{"x":-0.37,"y":0.15,"v":2.5},{"x":-0.33,"y":0.15,"v":2.6},{"x":-0.29,"y":0.15,"v":2.9},{"x":-0.25,"y":0.15,"v":3.3},{"x":-0.21,"y":0.15,"v":4.0},{"x":-0.17,"y":0.15,"v":4.7},{"x":-0.13,"y":0.15,"v":5.3},{"x":-0.09,"y":0.15,"v":5.5},{"x":-0.05,"y":0.15,"v":5.2},{"x":-0.01,"y":0.15,"v":4.6},{"x":0.03,"y":0.15,"v":3.9},{"x":0.07,"y":0.15,"v":3.2},{"x":0.11,"y":0.15,"v":2.8},{"x":0.15,"y":0.15,"v":2.6},{"x":0.19,"y":0.15,"v":2.5},{"x":0.23,"y":0.15,"v":2.4},
{"x":-0.41,"y":0.09,"v":2.5},{"x":-0.37,"y":0.09,"v":2.6},{"x":-0.33,"y":0.09,"v":2.7},{"x":-0.29,"y":0.09,"v":3.1},{"x":-0.25,"y":0.09,"v":3.7},{"x":-0.21,"y":0.09,"v":4.6},{"x":-0.17,"y":0.09,"v":5.6},{"x":-0.13,"y":0.09,"v":6.4},{"x":-0.09,"y":0.09,"v":6.7},{"x":-0.05,"y":0.09,"v":6.3},{"x":-0.01,"y":0.09,"v":5.5},{"x":0.03,"y":0.09,"v":4.5},{"x":0.07,"y":0.09,"v":3.6},{"x":0.11,"y":0.09,"v":3.0},{"x":0.15,"y":0.09,"v":2.7},{"x":0.19,"y":0.09,"v":2.6},{"x":0.23,"y":0.09,"v":2.5},
{"x":-0.41,"y":0.03,"v":2.5},{"x":-0.37,"y":0.03,"v":2.6},{"x":-0.33,"y":0.03,"v":2.8},{"x":-0.29,"y":0.03,"v":3.2},{"x":-0.25,"y":0.03,"v":4.0},{"x":-0.21,"y":0.03,"v":5.0},{"x":-0.17,"y":0.03,"v":6.2},{"x":-0.13,"y":0.03,"v":7.1},{"x":-0.09,"y":0.03,"v":7.4},{"x":-0.05,"y":0.03,"v":7.0},{"x":-0.01,"y":0.03,"v":6.0},{"x":0.03,"y":0.03,"v":4.8},{"x":0.07,"y":0.03,"v":3.8},{"x":0.11,"y":0.03,"v":3.1},{"x":0.15,"y":0.03,"v":2.8},{"x":0.19,"y":0.03,"v":2.6},{"x":0.23,"y":0.03,"v":2.5},
{"x":-0.41,"y":-0.03,"v":2.5},{"x":-0.37,"y":-0.03,"v":2.6},{"x":-0.33,"y":-0.03,"v":2.8},{"x":-0.29,"y":-0.03,"v":3.2},{"x":-0.25,"y":-0.03,"v":4.0},{"x":-0.21,"y":-0.03,"v":5.0},{"x":-0.17,"y":-0.03,"v":6.2},{"x":-0.13,"y":-0.03,"v":7.1},{"x":-0.09,"y":-0.03,"v":7.4},{"x":-0.05,"y":-0.03,"v":7.0},{"x":-0.01,"y":-0.03,"v":6.0},{"x":0.03,"y":-0.03,"v":4.8},{"x":0.07,"y":-0.03,"v":3.8},{"x":0.11,"y":-0.03,"v":3.1},{"x":0.15,"y":-0.03,"v":2.8},{"x":0.19,"y":-0.03,"v":2.6},{"x":0.23,"y":-0.03,"v":2.5},
{"x":-0.41,"y":-0.09,"v":2.5},{"x":-0.37,"y":-0.09,"v":2.6},{"x":-0.33,"y":-0.09,"v":2.7},{"x":-0.29,"y":-0.09,"v":3.1},{"x":-0.25,"y":-0.09,"v":3.7},{"x":-0.21,"y":-0.09,"v":4.6},{"x":-0.17,"y":-0.09,"v":5.6},{"x":-0.13,"y":-0.09,"v":6.4},{"x":-0.09,"y":-0.09,"v":6.7},{"x":-0.05,"y":-0.09,"v":6.3},{"x":-0.01,"y":-0.09,"v":5.5},{"x":0.03,"y":-0.09,"v":4.5},{"x":0.07,"y":-0.09,"v":3.6},{"x":0.11,"y":-0.09,"v":3.0},{"x":0.15,"y":-0.09,"v":2.7},{"x":0.19,"y":-0.09,"v":2.6},{"x":0.23,"y":-0.09,"v":2.5},
{"x":-0.41,"y":-0.15,"v":2.4},{"x":-0.37,"y":-0.15,"v":2.5},{"x":-0.33,"y":-0.15,"v":2.6},{"x":-0.29,"y":-0.15,"v":2.9},{"x":-0.25,"y":-0.15,"v":3.3},{"x":-0.21,"y":-0.15,"v":4.0},{"x":-0.17,"y":-0.15,"v":4.7},{"x":-0.13,"y":-0.15,"v":5.3},{"x":-0.09,"y":-0.15,"v":5.5},{"x":-0.05,"y":-0.15,"v":5.2},{"x":-0.01,"y":-0.15,"v":4.6},{"x":0.03,"y":-0.15,"v":3.9},{"x":0.07,"y":-0.15,"v":3.2},{"x":0.11,"y":-0.15,"v":2.8},{"x":0.15,"y":-0.15,"v":2.6},{"x":0.19,"y":-0.15,"v":2.5},{"x":0.23,"y":-0.15,"v":2.4},
{"x":-0.41,"y":-0.21,"v":2.3},{"x":-0.37,"y":-0.21,"v":2.4},{"x":-0.33,"y":-0.21,"v":2.5},{"x":-0.29,"y":-0.21,"v":2.6},{"x":-0.25,"y":-0.21,"v":2.9},{"x":-0.21,"y":-0.21,"v":3.3},{"x":-0.17,"y":-0.21,"v":3.8},{"x":-0.13,"y":-0.21,"v":4.1},{"x":-0.09,"y":-0.21,"v":4.3},{"x":-0.05,"y":-0.21,"v":4.1},{"x":-0.01,"y":-0.21,"v":3.7},{"x":0.03,"y":-0.21,"v":3.2},{"x":0.07,"y":-0.21,"v":2.9},{"x":0.11,"y":-0.21,"v":2.6},{"x":0.15,"y":-0.21,"v":2.4},{"x":0.19,"y":-0.21,"v":2.4},{"x":0.23,"y":-0.21,"v":2.3},
{"x":-0.41,"y":-0.27,"v":2.2},{"x":-0.37,"y":-0.27,"v":2.2},{"x":-0.33,"y":-0.27,"v":2.3},{"x":-0.29,"y":-0.27,"v":2.4},{"x":-0.25,"y":-0.27,"v":2.5},{"x":-0.21,"y":-0.27,"v":2.7},{"x":-0.17,"y":-0.27,"v":3.0},{"x":-0.13,"y":-0.27,"v":3.2},{"x":-0.09,"y":-0.27,"v":3.2},{"x":-0.05,"y":-0.27,"v":3.2},{"x":-0.01,"y":-0.27,"v":2.9},{"x":0.03,"y":-0.27,"v":2.7},{"x":0.07,"y":-0.27,"v":2.5},{"x":0.11,"y":-0.27,"v":2.4},{"x":0.15,"y":-0.27,"v":2.3},{"x":0.19,"y":-0.27,"v":2.2},{"x":0.23,"y":-0.27,"v":2.2},
{"x":-0.41,"y":-0.33,"v":2.1},{"x":-0.37,"y":-0.33,"v":2.1},{"x":-0.33,"y":-0.33,"v":2.1},{"x":-0.29,"y":-0.33,"v":2.2},{"x":-0.25,"y":-0.33,"v":2.2},{"x":-0.21,"y":-0.33,"v":2.3},{"x":-0.17,"y":-0.33,"v":2.4},{"x":-0.13,"y":-0.33,"v":2.5},{"x":-0.09,"y":-0.33,"v":2.5},{"x":-0.05,"y":-0.33,"v":2.5},{"x":-0.01,"y":-0.33,"v":2.4},{"x":0.03,"y":-0.33,"v":2.3},{"x":0.07,"y":-0.33,"v":2.2},{"x":0.11,"y":-0.33,"v":2.1},{"x":0.15,"y":-0.33,"v":2.1},{"x":0.19,"y":-0.33,"v":2.1},{"x":0.23,"y":-0.33,"v":2.1},
{"x":-0.41,"y":-0.39,"v":1.9},{"x":-0.37,"y":-0.39,"v":1.9},{"x":-0.33,"y":-0.39,"v":1.9},{"x":-0.29,"y":-0.39,"v":1.9},{"x":-0.25,"y":-0.39,"v":2.0},{"x":-0.21,"y":-0.39,"v":2.0},{"x":-0.17,"y":-0.39,"v":2.0},{"x":-0.13,"y":-0.39,"v":2.1},{"x":-0.09,"y":-0.39,"v":2.1},{"x":-0.05,"y":-0.39,"v":2.1},{"x":-0.01,"y":-0.39,"v":2.0},{"x":0.03,"y":-0.39,"v":2.0},{"x":0.07,"y":-0.39,"v":2.0},{"x":0.11,"y":-0.39,"v":1.9},{"x":0.15,"y":-0.39,"v":1.9},{"x":0.19,"y":-0.39,"v":1.9},{"x":0.23,"y":-0.39,"v":1.9},
{"x":-0.41,"y":-0.45,"v":1.7},{"x":-0.37,"y":-0.45,"v":1.7},{"x":-0.33,"y":-0.45,"v":1.7},{"x":-0.29,"y":-0.45,"v":1.7},{"x":-0.25,"y":-0.45,"v":1.7},{"x":-0.21,"y":-0.45,"v":1.7},{"x":-0.17,"y":-0.45,"v":1.8},{"x":-0.13,"y":-0.45,"v":1.8},{"x":-0.09,"y":-0.45,"v":1.8},{"x":-0.05,"y":-0.45,"v":1.8},{"x":-0.01,"y":-0.45,"v":1.8},{"x":0.03,"y":-0.45,"v":1.7},{"x":0.07,"y":-0.45,"v":1.7},{"x":0.11,"y":-0.45,"v":1.7},{"x":0.15,"y":-0.45,"v":1.7},{"x":0.19,"y":-0.45,"v":1.7},{"x":0.23,"y":-0.45,"v":1.7}
],
"curves":[
{"c":"L","i":0,"x":-0.37,"y":-1.5},{"c":"L","i":1,"x":-0.434,"y":-1.275},{"c":"L","i":2,"x":-0.487,"y":-1.035},{"c":"L","i":3,"x":-0.54,"y":-0.834},{"c":"L","i":4,"x":-0.58,"y":-0.675},{"c":"L","i":5,"x":-0.62,"y":-0.474},{"c":"L","i":6,"x":-0.66,"y":-0.234},{"c":"L","i":7,"x":-0.68,"y":0},{"c":"L","i":8,"x":-0.65,"y":0.286},{"c":"L","i":9,"x":-0.608,"y":0.486},{"c":"L","i":10,"x":-0.554,"y":0.726},{"c":"L","i":11,"x":-0.5,"y":0.926},{"c":"L","i":12,"x":-0.448,"y":1.126},{"c":"L","i":13,"x":-0.4,"y":1.327},{"c":"L","i":14,"x":-0.37,"y":1.5},
{"c":"R","i":0,"x":0.344,"y":-1.5},{"c":"R","i":1,"x":0.4,"y":-1.275},{"c":"R","i":2,"x":0.446,"y":-1.074},{"c":"R","i":3,"x":0.486,"y":-0.874},{"c":"R","i":4,"x":0.526,"y":-0.675},{"c":"R","i":5,"x":0.558,"y":-0.474},{"c":"R","i":6,"x":0.579,"y":-0.234},{"c":"R","i":7,"x":0.587,"y":0},{"c":"R","i":8,"x":0.574,"y":0.286},{"c":"R","i":9,"x":0.552,"y":0.486},{"c":"R","i":10,"x":0.512,"y":0.726},{"c":"R","i":11,"x":0.472,"y":0.926},{"c":"R","i":12,"x":0.427,"y":1.126},{"c":"R","i":13,"x":0.379,"y":1.327},{"c":"R","i":14,"x":0.344,"y":1.5}
],
"pts":[{"k":"o","x":-0.68,"y":0},{"k":"o","x":0.587,"y":0},{"k":"r","x":-0.093,"y":0}]
},
"resolve":{"axis":{"x":"independent","y":"independent"}},
"layer":[
{"data":{"name":"grid"},
 "mark":{"type":"point","shape":"M-1,-0.18H1V0.18H-1Z","size":655,"filled":true,"opacity":1,"strokeWidth":0},
 "encoding":{
  "x":{"field":"x","type":"quantitative","scale":{"domain":[-1.032,1.032],"nice":false,"zero":false},"axis":{"orient":"bottom","values":[-1,-0.5,0,0.5,1],"format":".1f","tickSize":-4,"labelPadding":8}},
  "y":{"field":"y","type":"quantitative","scale":{"domain":[-1.548,1.548],"nice":false,"zero":false},"axis":{"orient":"left","values":[-1.5,-1,-0.5,0,0.5,1,1.5],"format":".1f","tickSize":-4,"labelPadding":8}},
  "color":{"field":"v","type":"quantitative",
   "scale":{"domain":[-6.2,-5,-2.5,0,2.5,5,7.5,10],"range":["#44117f","#52249c","#6c50c4","#8a80df","#a6abe8","#b8d2ea","#d8e6e8","#efe9d6"],"interpolate":"rgb","clamp":true,"zero":false,"nice":false},
   "legend":{"orient":"none","legendX":275,"legendY":51,"direction":"vertical","title":null,"gradientLength":161,"gradientThickness":12,"values":[-5,0,5],"labelFont":"Liberation Serif","labelFontSize":10,"labelColor":"#444","labelOffset":6,"gradientStrokeColor":"#bbb","gradientStrokeWidth":0.5}}
 }},
{"data":{"name":"fine"},
 "mark":{"type":"point","shape":"square","size":30,"filled":true,"opacity":1,"strokeWidth":0},
 "encoding":{
  "x":{"field":"x","type":"quantitative","scale":{"domain":[-1.032,1.032],"nice":false,"zero":false},"axis":null},
  "y":{"field":"y","type":"quantitative","scale":{"domain":[-1.548,1.548],"nice":false,"zero":false},"axis":null},
  "color":{"field":"v","type":"quantitative",
   "scale":{"domain":[-6.2,-5,-2.5,0,2.5,5,7.5,10],"range":["#44117f","#52249c","#6c50c4","#8a80df","#a6abe8","#b8d2ea","#d8e6e8","#efe9d6"],"interpolate":"rgb","clamp":true,"zero":false,"nice":false},
   "legend":{"orient":"none","legendX":275,"legendY":51,"direction":"vertical","title":null,"gradientLength":161,"gradientThickness":12,"values":[-5,0,5],"labelFont":"Liberation Serif","labelFontSize":10,"labelColor":"#444","labelOffset":6,"gradientStrokeColor":"#bbb","gradientStrokeWidth":0.5}}
 }},
{"data":{"values":[{"y":0}]},
 "mark":{"type":"rule","color":"black","strokeWidth":2},
 "encoding":{"y":{"field":"y","type":"quantitative","scale":{"domain":[-1.548,1.548],"nice":false,"zero":false},"axis":null}}},
{"data":{"name":"curves"},
 "mark":{"type":"line","color":"#ee1c25","strokeWidth":1.6,"strokeDash":[5,3],"interpolate":"catmull-rom","clip":true},
 "encoding":{
  "x":{"field":"x","type":"quantitative","scale":{"domain":[-1.032,1.032],"nice":false,"zero":false},"axis":{"orient":"top","values":[-1,-0.5,0,0.5,1],"labels":false,"tickSize":-4}},
  "y":{"field":"y","type":"quantitative","scale":{"domain":[-1.548,1.548],"nice":false,"zero":false},"axis":{"orient":"right","values":[-1.5,-1,-0.5,0,0.5,1,1.5],"labels":false,"tickSize":-4}},
  "detail":{"field":"c"},
  "order":{"field":"i","type":"quantitative"}
 }},
{"data":{"name":"pts"},"transform":[{"filter":"datum.k == 'o'"}],
 "mark":{"type":"circle","color":"#f7901e","size":115,"opacity":1},
 "encoding":{
  "x":{"field":"x","type":"quantitative","scale":{"domain":[-1.032,1.032],"nice":false,"zero":false},"axis":{"orient":"top","values":[-0.9,-0.8,-0.7,-0.6,-0.4,-0.3,-0.2,-0.1,0.1,0.2,0.3,0.4,0.6,0.7,0.8,0.9],"labels":false,"tickSize":-2}},
  "y":{"field":"y","type":"quantitative","scale":{"domain":[-1.548,1.548],"nice":false,"zero":false},"axis":{"orient":"right","values":[-1.4,-1.3,-1.2,-1.1,-0.9,-0.8,-0.7,-0.6,-0.4,-0.3,-0.2,-0.1,0.1,0.2,0.3,0.4,0.6,0.7,0.8,0.9,1.1,1.2,1.3,1.4],"labels":false,"tickSize":-2}}
 }},
{"data":{"name":"pts"},"transform":[{"filter":"datum.k == 'r'"}],
 "mark":{"type":"circle","color":"#ff0000","size":115,"opacity":1},
 "encoding":{
  "x":{"field":"x","type":"quantitative","scale":{"domain":[-1.032,1.032],"nice":false,"zero":false},"axis":{"orient":"bottom","values":[-0.9,-0.8,-0.7,-0.6,-0.4,-0.3,-0.2,-0.1,0.1,0.2,0.3,0.4,0.6,0.7,0.8,0.9],"labels":false,"tickSize":-2}},
  "y":{"field":"y","type":"quantitative","scale":{"domain":[-1.548,1.548],"nice":false,"zero":false},"axis":{"orient":"left","values":[-1.4,-1.3,-1.2,-1.1,-0.9,-0.8,-0.7,-0.6,-0.4,-0.3,-0.2,-0.1,0.1,0.2,0.3,0.4,0.6,0.7,0.8,0.9,1.1,1.2,1.3,1.4],"labels":false,"tickSize":-2}}
 }}
]
}
